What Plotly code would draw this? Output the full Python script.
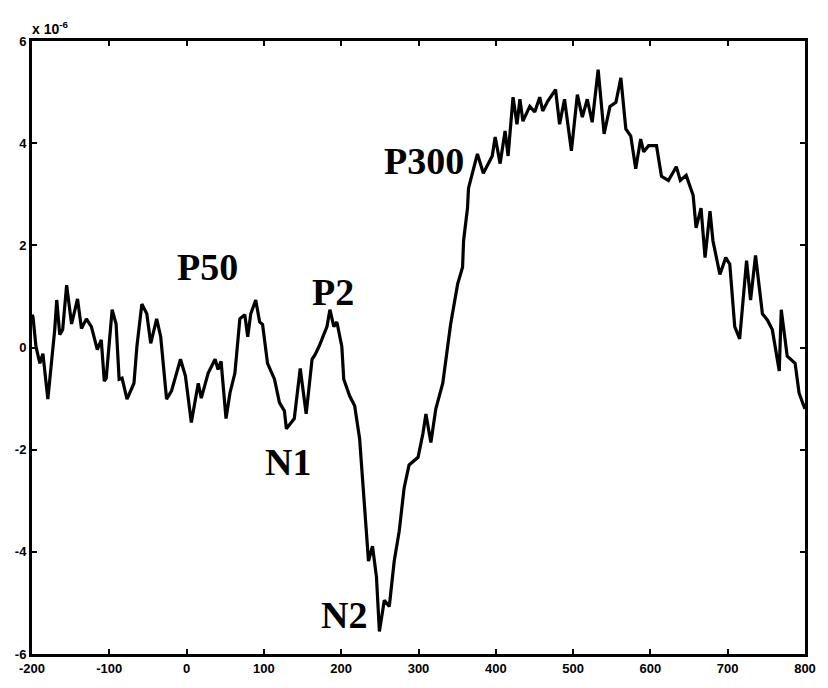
import plotly.graph_objects as go

# Time (ms) and amplitude (x 1e-6)
time_ms = [-200, -198.7, -194.9, -189.8, -185.9, -179.5, -170.6, -168.0, -164.1, -160.3,
           -155.2, -148.8, -141.1, -136.0, -129.6, -123.2, -115.5, -110.4, -106.5, -104.0,
           -96.3, -91.2, -87.3, -83.5, -77.1, -68.1, -64.3, -57.9, -51.5, -46.4,
           -38.7, -33.5, -25.9, -19.5, -7.9, -1.5, 6.1, 15.1, 19.0, 27.9,
           36.9, 40.7, 44.6, 51.0, 56.1, 62.5, 68.9, 75.3, 79.1, 83.0,
           89.4, 94.5, 98.3, 104.7, 113.7, 120.1, 126.5, 129.1, 139.3, 147.0,
           154.7, 162.3, 166.2, 171.3, 181.6, 185.4, 190.5, 194.4, 200.8, 203.3,
           211.0, 217.4, 223.8, 228.9, 232.8, 235.3, 240.5, 245.6, 249.4, 255.8,
           262.2, 268.6, 275.0, 281.4, 287.8, 299.4, 305.8, 309.6, 316.0, 322.4,
           331.4, 337.8, 341.6, 350.6, 357.0, 358.3, 363.4, 364.7, 369.8, 376.2,
           383.9, 395.4, 399.2, 405.6, 412.0, 415.9, 422.3, 427.4, 431.2, 435.1,
           444.0, 450.4, 456.8, 460.7, 467.1, 477.3, 482.5, 488.9, 497.8, 505.5,
           511.9, 518.3, 524.7, 532.4, 540.1, 547.7, 555.4, 561.8, 568.2, 574.6,
           581.0, 587.4, 591.3, 597.7, 607.9, 614.3, 623.3, 633.5, 638.7, 646.3,
           655.3, 659.1, 665.5, 670.7, 677.1, 680.9, 689.9, 697.5, 702.7, 709.1,
           715.5, 724.4, 729.6, 736.0, 744.9, 751.3, 757.7, 766.7, 769.3, 777.0,
           787.2, 792.3, 797.4, 800]
amplitude = [0.64, 0.60, 0.02, -0.31, -0.12, -1.01, 0.35, 0.93, 0.25, 0.35,
             1.22, 0.46, 0.95, 0.37, 0.56, 0.41, -0.04, 0.15, -0.66, -0.60,
             0.74, 0.46, -0.62, -0.60, -1.01, -0.70, 0.02, 0.85, 0.66, 0.08,
             0.56, 0.21, -1.01, -0.85, -0.23, -0.56, -1.47, -0.70, -0.99, -0.50,
             -0.23, -0.43, -0.27, -1.39, -0.89, -0.50, 0.56, 0.64, 0.21, 0.66,
             0.93, 0.50, 0.45, -0.31, -0.62, -1.08, -1.24, -1.59, -1.39, -0.41,
             -1.30, -0.23, -0.14, 0.02, 0.41, 0.74, 0.41, 0.50, 0.02, -0.62,
             -0.95, -1.14, -1.78, -2.88, -3.60, -4.18, -3.89, -4.49, -5.56, -4.95,
             -5.07, -4.18, -3.60, -2.75, -2.30, -2.15, -1.68, -1.30, -1.86, -1.20,
             -0.70, 0.02, 0.46, 1.24, 1.57, 2.09, 2.73, 3.12, 3.44, 3.79,
             3.41, 3.75, 4.12, 3.60, 4.24, 3.75, 4.90, 4.37, 4.86, 4.43,
             4.72, 4.61, 4.90, 4.63, 4.82, 5.05, 4.37, 4.86, 3.85, 4.95,
             4.51, 4.86, 4.41, 5.44, 4.18, 4.72, 4.80, 5.28, 4.28, 4.14,
             3.50, 4.08, 3.83, 3.95, 3.95, 3.35, 3.27, 3.54, 3.27, 3.37,
             2.98, 2.34, 2.73, 1.76, 2.67, 2.09, 1.43, 1.76, 1.63, 0.41,
             0.17, 1.70, 0.93, 1.80, 0.66, 0.54, 0.35, -0.46, 0.74, -0.17,
             -0.31, -0.89, -1.10, -1.20]

x_ticks = [-200, -100, 0, 100, 200, 300, 400, 500, 600, 700, 800]
y_ticks = [-6, -4, -2, 0, 2, 4, 6]

peak_labels = ["P50", "P2", "N1", "N2", "P300"]
peak_x = [26.6, 189.2, 131.6, 203.3, 307.0]
peak_y = [1.57, 1.08, -2.25, -5.24, 3.66]

fig = go.Figure()
fig.add_trace(go.Scatter(x=time_ms, y=amplitude, mode="lines",
                         line=dict(color="black", width=3.2), showlegend=False))

for t, px, py in zip(peak_labels, peak_x, peak_y):
    fig.add_annotation(x=px, y=py, text=t, showarrow=False, xanchor="center", yanchor="middle",
                       font=dict(family="Liberation Serif", size=38, color="black", weight="bold"))

fig.add_annotation(xref="paper", yref="paper", x=-0.003, y=1.0, xanchor="left", yanchor="bottom",
                   text="x 10<sup>-6</sup>", showarrow=False, yshift=2,
                   font=dict(family="Liberation Sans", size=14, color="black", weight="bold"))

axis_common = dict(showline=True, linewidth=3, linecolor="black", mirror="ticks",
                   ticks="inside", ticklen=5, tickwidth=2, tickcolor="black",
                   showgrid=False, zeroline=False,
                   tickfont=dict(family="Liberation Sans", size=13, color="black", weight="bold"))

fig.update_xaxes(range=[-200, 800], tickvals=x_ticks, ticktext=[str(v) for v in x_ticks], **axis_common)
fig.update_yaxes(range=[-6, 6], tickvals=y_ticks, ticktext=[str(v) for v in y_ticks], **axis_common)

fig.update_layout(width=828, height=688, margin=dict(l=32, r=14, t=41, b=27),
                  plot_bgcolor="white", paper_bgcolor="white")

fig.write_html("out.html")
